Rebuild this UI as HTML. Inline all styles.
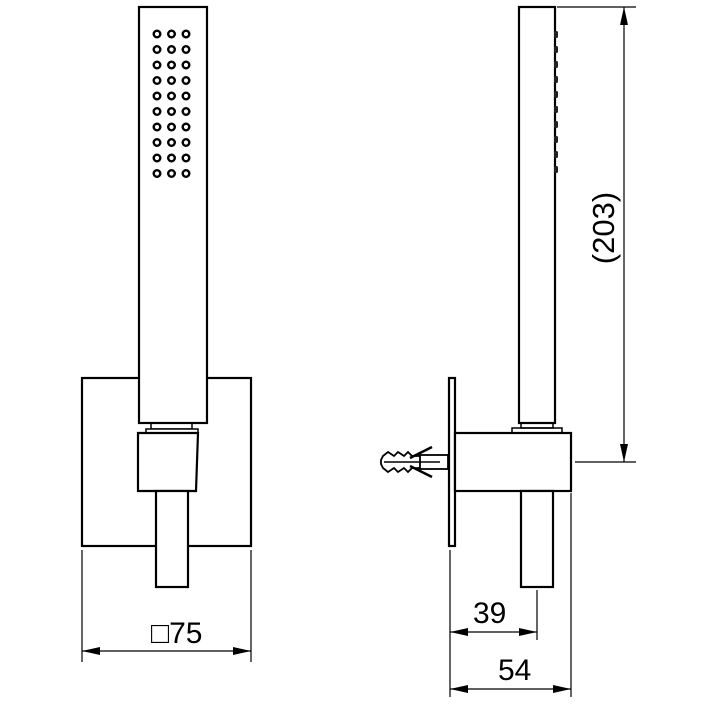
<!DOCTYPE html>
<html><head><meta charset="utf-8"><style>html,body{margin:0;padding:0;background:#fff}svg{display:block}</style></head>
<body>
<svg width="709" height="709" viewBox="0 0 709 709" xmlns="http://www.w3.org/2000/svg">
<defs>
<marker id="a" viewBox="0 0 18 8" refX="18" refY="4" markerWidth="18" markerHeight="8" markerUnits="userSpaceOnUse" orient="auto-start-reverse"><path d="M0,0 L18,4 L0,8 Z" fill="#000"/></marker>
</defs>
<g fill="none" stroke="#000" stroke-width="2.2">
<rect x="82" y="378" width="169" height="168" fill="#fff"/>
<rect x="139" y="7" width="68" height="416" fill="#fff"/>
<rect x="151" y="423" width="41" height="6" stroke-width="1.5"/>
<path d="M146,429 L198,429 L198,433 L146,433 Z" stroke-width="1.5" fill="#fff"/>
<path d="M138,433 L198,433 L196,491 L138,491 Z" fill="#fff"/>
<rect x="156" y="491" width="32" height="96" fill="#fff"/>
<rect x="449" y="378" width="6" height="168" fill="#fff"/>
<rect x="519" y="7" width="36" height="416" fill="#fff"/>
<rect x="521" y="423" width="32" height="5" stroke-width="1.5"/>
<rect x="512" y="428" width="50" height="5" stroke-width="1.5"/>
<rect x="455" y="433" width="116" height="58" fill="#fff"/>
<rect x="521" y="491" width="32" height="96" fill="#fff"/>
<rect x="420" y="455" width="28" height="14" stroke-width="1.8"/>
<path d="M420,456 L412,456 L408,452 L404,456 L398,452 L394,456 L388,452 L383,456 L381,460 L381,464 L383,468 L388,472 L394,468 L398,472 L404,468 L408,472 L412,468 L420,468" stroke-width="1.8"/>
<path d="M384,462 L440,462" stroke-width="1.5"/>
<path d="M410,458 L432,447 M410,466 L432,477" stroke-width="2.5"/>
</g>
<g fill="none" stroke="#000" stroke-width="2.4">
<g id="row">
<circle cx="157" cy="34" r="3.3"/><circle cx="171.5" cy="34" r="3.3"/><circle cx="186" cy="34" r="3.3"/>
</g>
<use href="#row" y="15.5"/><use href="#row" y="31"/><use href="#row" y="46.5"/><use href="#row" y="62"/><use href="#row" y="77.5"/><use href="#row" y="93"/><use href="#row" y="108.5"/><use href="#row" y="124"/><use href="#row" y="139.5"/>
</g>
<g fill="#222">
<rect x="554" y="31" width="4" height="7" rx="1.5"/><rect x="554" y="46" width="4" height="7" rx="1.5"/><rect x="554" y="61" width="4" height="7" rx="1.5"/><rect x="554" y="76" width="4" height="7" rx="1.5"/><rect x="554" y="91" width="4" height="7" rx="1.5"/><rect x="554" y="106" width="4" height="7" rx="1.5"/><rect x="554" y="121" width="4" height="7" rx="1.5"/><rect x="554" y="136" width="4" height="7" rx="1.5"/><rect x="554" y="151" width="4" height="7" rx="1.5"/><rect x="554" y="166" width="4" height="7" rx="1.5"/>
</g>
<g stroke="#000" stroke-width="1.2" fill="none">
<path d="M82,550 V662 M251,550 V662"/>
<path d="M82,651 H251" marker-start="url(#a)" marker-end="url(#a)"/>
<path d="M450,550 V697 M571,493 V697 M537,590 V640"/>
<path d="M450,632 H537" marker-start="url(#a)" marker-end="url(#a)"/>
<path d="M450,689 H571" marker-start="url(#a)" marker-end="url(#a)"/>
<path d="M557,7 H636 M575,462 H636"/>
<path d="M624,7 V462" marker-start="url(#a)" marker-end="url(#a)"/>
</g>
<g font-family="Liberation Sans, sans-serif" font-size="30" fill="#000">
<text x="151" y="643">□75</text>
<text x="473" y="623">39</text>
<text x="498" y="680">54</text>
<text transform="translate(614,228) rotate(-90)" text-anchor="middle" font-size="31">(203)</text>
</g>
</svg>
</body></html>
